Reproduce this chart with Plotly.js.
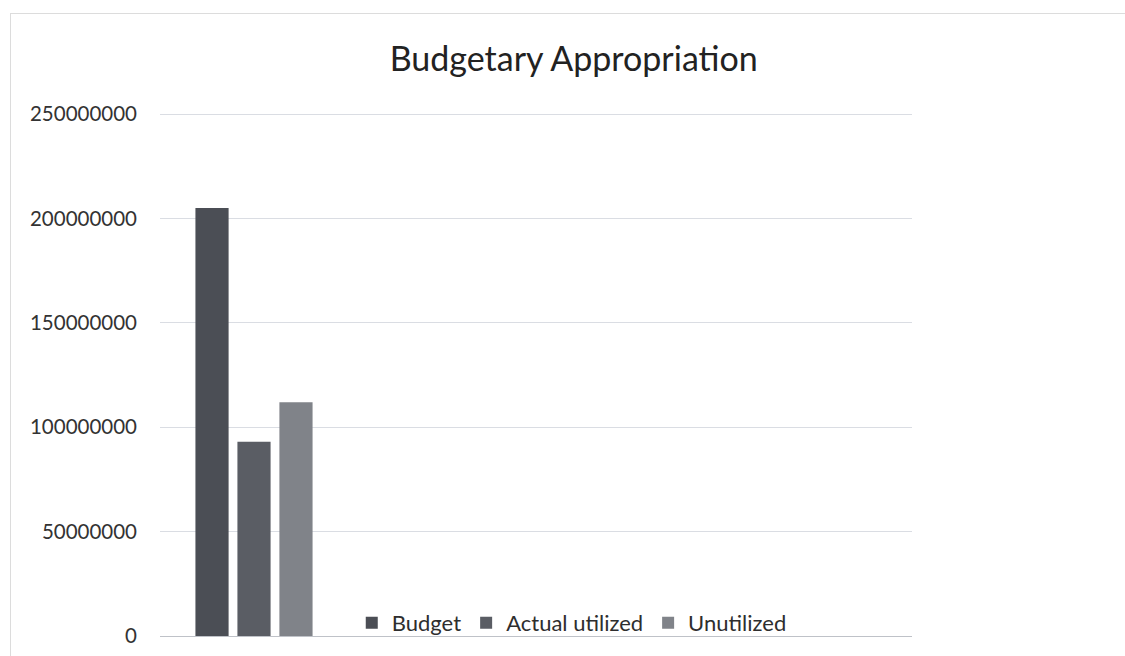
<!DOCTYPE html>
<html>
<head>
<meta charset="utf-8">
<script src="https://cdn.plot.ly/plotly-3.0.1.min.js"></script>
<style>
  html, body { margin: 0; padding: 0; background: #ffffff; }
  #wrap { position: relative; width: 1125px; height: 656px; overflow: hidden; }
  #chart { position: absolute; left: 0; top: 0; width: 1125px; height: 656px; }
  #frame { position: absolute; left: 10px; top: 13px; width: 1130px; height: 660px;
           border: 1px solid #dcdcdc; pointer-events: none; }
</style>
</head>
<body>
<div id="wrap">
  <div id="chart"></div>
  <div id="frame"></div>
</div>
<script>
const categories = ["Budgetary Appropriation"];
const seriesNames = ["Budget", "Actual utilized", "Unutilized"];
const budget = [205000000];
const actualUtilized = [93000000];
const unutilized = [112000000];
const seriesColors = ["#4b4e55", "#5a5d64", "#808389"];
const yTicks = [0, 50000000, 100000000, 150000000, 200000000, 250000000];
const yTickLabels = ["0", "50000000", "100000000", "150000000", "200000000", "250000000"];

const seriesValues = [budget, actualUtilized, unutilized];
const traces = seriesNames.map((name, i) => ({
  type: "bar",
  name: name,
  x: categories,
  y: seriesValues[i],
  marker: { color: seriesColors[i] },
  hoverinfo: "name+y"
}));

const layout = {
  width: 1125,
  height: 656,
  paper_bgcolor: "#ffffff",
  plot_bgcolor: "#ffffff",
  margin: { l: 160, r: 213, t: 113, b: 20 },
  font: { family: "Lato, 'Open Sans', sans-serif", color: "#3a3a3a" },
  title: {
    text: "Budgetary Appropriation",
    font: { family: "Lato, 'Open Sans', sans-serif", size: 34, color: "#222222" },
    x: 0.51, xref: "container", xanchor: "center",
    y: 0.91, yref: "container", yanchor: "middle"
  },
  barmode: "group",
  bargap: 0.33,
  bargroupgap: 0.21,
  xaxis: {
    type: "category",
    range: [-0.5, 3.5],
    showticklabels: false,
    showgrid: false,
    zeroline: false,
    showline: false,
    ticks: ""
  },
  yaxis: {
    range: [0, 250500000],
    tickvals: yTicks,
    ticktext: yTickLabels,
    tickfont: { family: "Lato, 'Open Sans', sans-serif", size: 20.5, color: "#333333" },
    ticklabelstandoff: 22,
    showgrid: true,
    gridcolor: "#dadde3",
    gridwidth: 1,
    zeroline: true,
    zerolinecolor: "#bfc2c8",
    zerolinewidth: 1,
    showline: false,
    ticks: ""
  },
  showlegend: true,
  legend: {
    orientation: "h",
    x: 0.255, xanchor: "left",
    y: 0.025, yanchor: "middle",
    bgcolor: "rgba(0,0,0,0)",
    font: { family: "Lato, 'Open Sans', sans-serif", size: 22, color: "#2e2e2e" },
    itemwidth: 30,
    traceorder: "normal"
  }
};

Plotly.newPlot("chart", traces, layout, { displayModeBar: false, staticPlot: true });
</script>
</body>
</html>
